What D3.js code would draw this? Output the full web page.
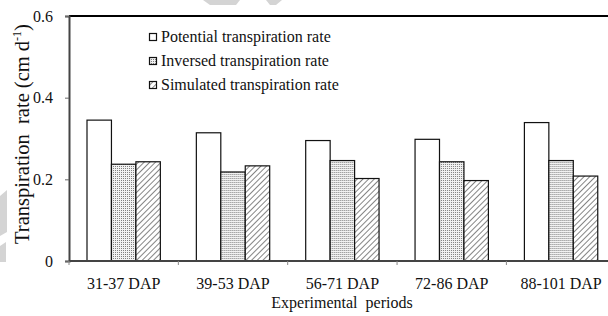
<!DOCTYPE html>
<html>
<head>
<meta charset="utf-8">
<script src="https://cdn.jsdelivr.net/npm/d3@7"></script>
<style>
  body { margin: 0; background: #fff; }
  svg { display: block; }
</style>
</head>
<body>
<div id="chart"></div>
<script>
'use strict';

// Data
var periods = ['31-37 DAP', '39-53 DAP', '56-71 DAP', '72-86 DAP', '88-101 DAP'];
var seriesNames = ['Potential transpiration rate', 'Inversed transpiration rate', 'Simulated transpiration rate'];
var potential = [0.345, 0.314, 0.295, 0.298, 0.339];
var inversed = [0.237, 0.218, 0.246, 0.243, 0.246];
var simulated = [0.243, 0.233, 0.202, 0.197, 0.208];
var yTicks = [0, 0.2, 0.4, 0.6];

var series = [potential, inversed, simulated];
var fills = ['#fff', 'url(#dots)', 'url(#hatch)'];
var FONT = 'Liberation Serif';

var svgWidth = 608, svgHeight = 316;
var margin = {top: 16, right: -8, bottom: 55, left: 69};
var width = svgWidth - margin.left - margin.right;
var height = svgHeight - margin.top - margin.bottom;

var svg = d3.select('#chart').append('svg')
	.attr('width', svgWidth)
	.attr('height', svgHeight)
	.attr('font-family', FONT);

// Fill patterns
var defs = svg.append('defs');
var dots = defs.append('pattern')
	.attr('id', 'dots')
	.attr('patternUnits', 'userSpaceOnUse')
	.attr('width', 2)
	.attr('height', 2);
dots.append('rect').attr('width', 2).attr('height', 2).attr('fill', '#f2f2f2');
dots.append('rect').attr('width', 1).attr('height', 1).attr('fill', '#808080');

var hatch = defs.append('pattern')
	.attr('id', 'hatch')
	.attr('patternUnits', 'userSpaceOnUse')
	.attr('width', 4)
	.attr('height', 4)
	.attr('patternTransform', 'rotate(45)');
hatch.append('rect').attr('width', 4).attr('height', 4).attr('fill', '#fff');
hatch.append('line')
	.attr('x1', 0).attr('y1', 0).attr('x2', 0).attr('y2', 4)
	.attr('stroke', '#333').attr('stroke-width', 1.2);

// Faint watermark fragments behind the chart
var wm = svg.append('g').attr('fill', '#d4d4d4');
wm.append('path').attr('d', 'M0,196 L7,190 L7,232 L0,236 Z');
wm.append('path').attr('d', 'M0,246 L6,242 L6,262 L0,262 Z');
wm.append('path').attr('d', 'M203,0 L240,0 L236,5 L210,5 Z');
wm.append('path').attr('d', 'M266,0 L282,0 L276,5 L270,5 Z');

var g = svg.append('g')
	.attr('transform', `translate(${margin.left}, ${margin.top})`);

// Scales
var x = d3.scaleBand()
	.domain(periods)
	.range([0, 109.35 * periods.length]);
var x1 = d3.scaleBand()
	.domain(d3.range(series.length))
	.range([18, x.bandwidth() - 18]);
var y = d3.scaleLinear()
	.domain([0, 0.6])
	.range([height, 0]);

// Top frame line
g.append('line')
	.attr('x1', 0).attr('x2', svgWidth)
	.attr('y1', y(0.6)).attr('y2', y(0.6))
	.attr('stroke', '#000')
	.attr('stroke-width', 2);

// Bars
var groups = g.selectAll('.group')
	.data(periods)
	.enter().append('g')
	.attr('class', 'group')
	.attr('transform', d => `translate(${x(d)}, 0)`);

groups.selectAll('rect')
	.data((d, i) => series.map((s, k) => ({k: k, v: s[i]})))
	.enter().append('rect')
	.attr('x', d => x1(d.k))
	.attr('y', d => y(d.v))
	.attr('width', x1.bandwidth())
	.attr('height', d => y(0) - y(d.v))
	.attr('fill', d => fills[d.k])
	.attr('stroke', '#111')
	.attr('stroke-width', 1.2);

// Y axis
var yAxis = g.append('g')
	.call(d3.axisLeft(y).tickValues(yTicks)
		.tickFormat(d => d === 0 ? '0' : d3.format('.1f')(d))
		.tickSizeOuter(0).tickSize(4).tickPadding(12))
	.attr('font-family', FONT);
yAxis.select('.domain').attr('stroke', '#444').attr('stroke-width', 2);
yAxis.selectAll('.tick line').attr('stroke', '#666');
yAxis.selectAll('text')
	.attr('font-family', FONT)
	.attr('font-size', 16)
	.attr('fill', '#111');

// X axis
var xAxis = g.append('g')
	.attr('transform', `translate(0, ${height})`)
	.call(d3.axisBottom(x).tickSize(0).tickPadding(17).tickSizeOuter(0))
	.attr('font-family', FONT);
xAxis.select('.domain')
	.attr('d', `M0,0H${svgWidth}`)
	.attr('stroke', '#444').attr('stroke-width', 2);
xAxis.selectAll('text')
	.attr('font-family', FONT)
	.attr('font-size', 16)
	.attr('fill', '#111');
// boundary ticks between categories
xAxis.selectAll('.sep')
	.data(periods)
	.enter().append('line')
	.attr('class', 'sep')
	.attr('x1', d => x(d)).attr('x2', d => x(d))
	.attr('y1', 0).attr('y2', 4)
	.attr('stroke', '#888');

// Axis titles
svg.append('text')
	.attr('x', 342)
	.attr('y', 308)
	.attr('text-anchor', 'middle')
	.attr('font-family', FONT)
	.attr('font-size', 16)
	.attr('fill', '#111')
	.style('white-space', 'pre')
	.text('Experimental  periods');

var yTitle = svg.append('text')
	.attr('transform', 'translate(29, 134) rotate(-90)')
	.attr('text-anchor', 'middle')
	.attr('font-family', FONT)
	.attr('font-size', 20.5)
	.attr('fill', '#111')
	.style('white-space', 'pre');
yTitle.append('tspan').text('Transpiration  rate (cm d');
yTitle.append('tspan').attr('font-size', 12).attr('dy', -8).text('-1');
yTitle.append('tspan').attr('dy', 8).text(')');

// Legend
var legend = svg.append('g')
	.attr('transform', 'translate(149, 37)');
var items = legend.selectAll('.item')
	.data(seriesNames)
	.enter().append('g')
	.attr('class', 'item')
	.attr('transform', (d, i) => `translate(0, ${i * 24})`);
items.append('rect')
	.attr('x', 0.5).attr('y', -3.5)
	.attr('width', 7).attr('height', 7)
	.attr('fill', (d, i) => fills[i])
	.attr('stroke', '#111')
	.attr('stroke-width', 1.2);
items.append('text')
	.attr('x', 12)
	.attr('y', 5)
	.attr('font-family', FONT)
	.attr('font-size', 16)
	.attr('fill', '#111')
	.text(d => d);
</script>
</body>
</html>
